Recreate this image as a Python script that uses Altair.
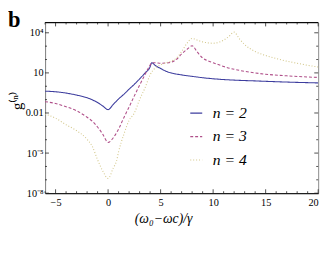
import altair as alt
import pandas as pd
import math

# ---- data (log10 of g^(n)) ----
series_names = ["n = 2", "n = 3", "n = 4"]

x_n2 = [-6, -5, -4, -3, -2, -1, -0.5, 0, 0.5, 1, 1.5, 2, 2.5, 3, 3.5, 4, 4.15, 4.5, 5, 5.5, 6, 7, 8, 9, 10, 12, 14, 16, 18, 20]
lg_n2 = [-0.37, -0.41, -0.51, -0.66, -0.86, -1.22, -1.48, -1.75, -1.35, -0.95, -0.60, -0.22, 0.15, 0.55, 0.98, 1.45, 1.76, 1.55, 1.33, 1.13, 1.00, 0.85, 0.74, 0.64, 0.56, 0.46, 0.40, 0.34, 0.29, 0.25]

x_n3 = [-6, -5, -4, -3, -2, -1.5, -1, -0.5, 0, 0.5, 1, 1.5, 2, 2.5, 3, 3.5, 3.9, 4.2, 4.5, 5, 5.5, 6, 6.5, 7, 7.5, 8, 8.5, 9, 9.5, 10, 11, 12, 13, 15, 17, 20]
lg_n3 = [-1.15, -1.29, -1.53, -1.83, -2.32, -2.62, -3.05, -3.6, -4.2, -3.85, -3.2, -2.35, -1.55, -0.72, 0.08, 0.85, 1.45, 1.76, 1.76, 1.72, 1.74, 1.80, 2.0, 2.42, 2.75, 3.03, 2.55, 2.12, 1.9, 1.76, 1.48, 1.27, 1.12, 0.9, 0.78, 0.66]

x_n4 = [-6, -5, -4, -3, -2, -1.5, -1, -0.5, 0, 0.5, 0.8, 1, 1.5, 2, 2.5, 3, 3.5, 4, 4.5, 5, 5.5, 6, 6.5, 7, 7.5, 8, 8.5, 9, 10, 10.5, 11, 11.5, 12, 12.5, 13, 14, 15, 16, 17, 18, 19, 20]
lg_n4 = [-2.07, -2.39, -2.88, -3.32, -3.97, -4.5, -5.5, -6.35, -6.9, -6.1, -5.6, -4.9, -3.6, -2.55, -2.0, -1.0, -0.15, 0.85, 1.38, 1.6, 1.75, 1.88, 2.1, 2.6, 3.2, 3.58, 3.45, 3.32, 3.22, 3.28, 3.45, 3.72, 4.05, 3.55, 3.12, 2.6, 2.3, 2.07, 1.88, 1.72, 1.57, 1.44]

x_major = [-5, 0, 5, 10, 15, 20]
x_minor = [-6, -4, -3, -2, -1, 1, 2, 3, 4, 6, 7, 8, 9, 11, 12, 13, 14, 16, 17, 18, 19]
y_major = [1e-8, 1e-5, 1e-2, 1e1, 1e4]
y_major_labels = ["10⁻⁸", "10⁻⁵", "0.01", "10", "10⁴"]
y_minor = [1e-7, 1e-6, 1e-4, 1e-3, 1e-1, 1e0, 1e2, 1e3]

colors = ["#3d3d9e", "#b0508a", "#d2c688"]
dashes = [[1, 0], [3, 2], [1, 2]]

rows = []
for name, xs, ls in [(series_names[0], x_n2, lg_n2), (series_names[1], x_n3, lg_n3), (series_names[2], x_n4, lg_n4)]:
    for xv, lv in zip(xs, ls):
        rows.append({"x": xv, "g": 10 ** lv, "series": name})
df = pd.DataFrame(rows)

W, H = 280, 175
FONT = "Liberation Serif"

xscale = alt.Scale(domain=[-6, 20], nice=False, zero=False)
yscale = alt.Scale(type="log", domain=[1e-8, 10 ** 4.77], nice=False)

label_expr = " : ".join(
    f"round(log(datum.value)/LN10) == {round(math.log10(v))} ? '{t}'"
    for v, t in zip(y_major, y_major_labels)
) + " : ''"

xaxis = alt.Axis(
    values=x_major, ticks=False, grid=False, domainColor="black", domainWidth=1,
    labelFont=FONT, labelFontSize=10.5, labelColor="black", labelPadding=5,
    title="(ω₀−ωc)/γ", titleFont=FONT, titleFontSize=14, titleFontWeight="normal",
    titleFontStyle="italic", titleColor="black", titleX=121, titlePadding=4)
yaxis = alt.Axis(
    values=y_major, labelExpr=label_expr, ticks=False, grid=False,
    domainColor="#8a8a8a", labelFont=FONT, labelFontSize=10.5, labelColor="black",
    labelPadding=2, title="g⁽ⁿ⁾", titleFont=FONT, titleFontSize=15,
    titleFontWeight="normal", titleColor="black", titleX=-29, titleY=80,
    titleBaseline="middle")

leg = alt.Legend(
    orient="none", legendX=147, legendY=85, title=None,
    symbolType="stroke", symbolSize=150, symbolStrokeWidth=1.2,
    labelFont=FONT, labelFontSize=16, labelFontStyle="italic",
    labelOffset=9, rowPadding=8, labelColor="black",
)

lines = alt.Chart(df).mark_line(strokeWidth=1.1, clip=True, interpolate="monotone").encode(
    x=alt.X("x:Q", scale=xscale, axis=xaxis),
    y=alt.Y("g:Q", scale=yscale, axis=yaxis),
    color=alt.Color("series:N", scale=alt.Scale(domain=series_names, range=colors), legend=leg),
    strokeDash=alt.StrokeDash("series:N", scale=alt.Scale(domain=series_names, range=dashes), legend=leg),
)

def xticks(vals, y0, y1):
    return alt.Chart(pd.DataFrame({"x": vals})).mark_rule(color="#222", strokeWidth=0.8).encode(
        x=alt.X("x:Q", scale=xscale, axis=xaxis), y=alt.value(y0), y2=alt.value(y1))

def yticks(vals, x0, x1):
    return alt.Chart(pd.DataFrame({"g": vals})).mark_rule(color="#222", strokeWidth=0.8).encode(
        y=alt.Y("g:Q", scale=yscale, axis=yaxis), x=alt.value(x0), x2=alt.value(x1))

one = pd.DataFrame({"t": ["b"]})
top_line = alt.Chart(one).mark_rule(color="black", strokeWidth=1).encode(
    x=alt.value(0), x2=alt.value(W), y=alt.value(0))
panel = alt.Chart(one).mark_text(font=FONT, fontWeight="bold", fontSize=23, align="left",
                                 baseline="alphabetic", color="black").encode(
    text="t:N", x=alt.value(-38), y=alt.value(5))

chart = alt.layer(
    lines,
    xticks(x_major, H, H - 4), xticks(x_minor, H, H - 2),
    xticks(x_major, 0, 4), xticks(x_minor, 0, 2),
    yticks(y_major, 0, 4), yticks(y_minor, 0, 2),
    yticks(y_major, W, W - 4), yticks(y_minor, W, W - 2),
    top_line, panel,
).properties(
    width=W, height=H,
    padding={"left": 38, "top": 12, "right": 7, "bottom": 40},
    autosize=alt.AutoSizeParams(type="none"),
).configure_view(stroke="#8a8a8a", strokeWidth=1)

chart.save("out.html", embed_options={"renderer": "svg", "actions": False})
